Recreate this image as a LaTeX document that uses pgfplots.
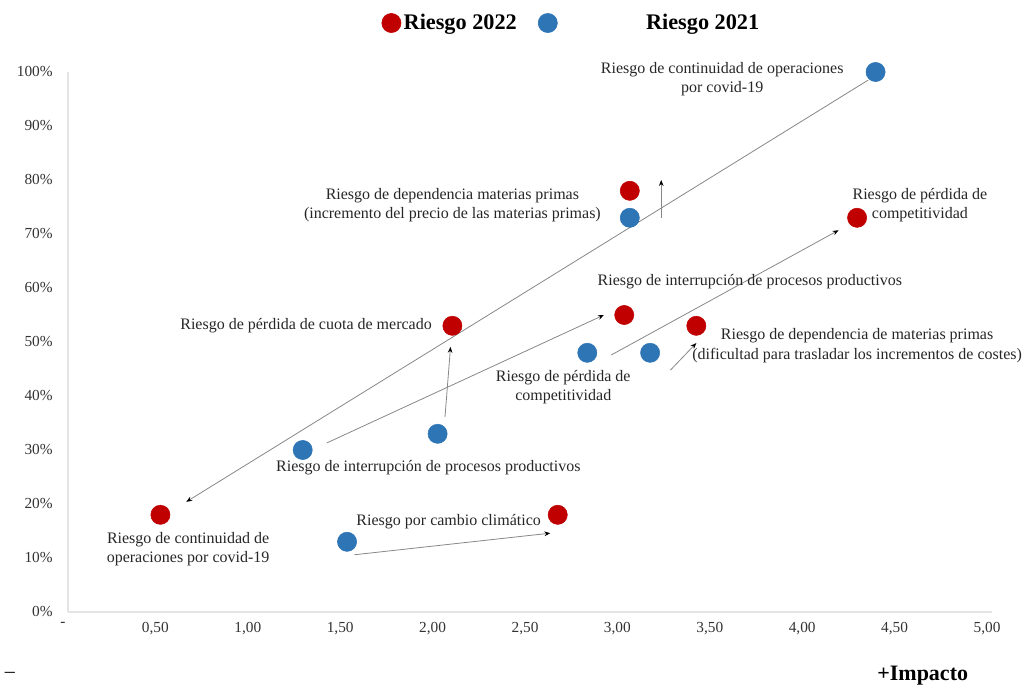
\documentclass[border=0pt]{standalone}
\usepackage{fontspec}
\setmainfont{Liberation Serif}
\usepackage{pgfplots}
\pgfplotsset{compat=1.18}
\usetikzlibrary{arrows.meta}
\definecolor{rojo}{RGB}{192,0,0}
\definecolor{azul}{RGB}{46,117,182}
\definecolor{flecha}{RGB}{135,135,135}
\tikzset{lab/.style={font=\fontsize{12}{14.5}\selectfont, text=black!85, inner sep=0pt, align=center}}
\begin{document}
\begin{tikzpicture}
\useasboundingbox (-51pt,-57pt) rectangle (721.5pt,459pt);
\begin{axis}[
  scale only axis, width=693pt, height=405pt,
  at={(0,0)}, anchor=south west,
  xmin=0, xmax=5, ymin=0, ymax=100,
  clip=false,
  axis x line*=bottom, axis y line*=left,
  axis line style={draw=black!10, line width=0.8pt, -},
  major tick length=0pt,
  xtick={0,0.5,1,1.5,2,2.5,3,3.5,4,4.5,5},
  xticklabels={-,{0,50},{1,00},{1,50},{2,00},{2,50},{3,00},{3,50},{4,00},{4,50},{5,00}},
  ytick={0,10,20,30,40,50,60,70,80,90,100},
  yticklabels={0\%,10\%,20\%,30\%,40\%,50\%,60\%,70\%,80\%,90\%,100\%},
  ticklabel style={font=\fontsize{11.5}{13}\selectfont, text=black!80},
  xticklabel style={yshift=-4pt, xshift=-3.75pt},
  yticklabel style={xshift=-8pt},
  legend style={at={(0.335,1.0907)}, anchor=west, draw=none, fill=none,
    font=\fontsize{16.7}{18}\selectfont\bfseries,
    /tikz/every even column/.append style={column sep=14pt}},
  legend columns=-1,
]
% flechas de 2021 a 2022
\addplot[flecha, line width=0.6pt, -{Stealth[length=4.5pt,width=3.5pt,black]}, forget plot] coordinates {(4.33,98.5) (0.64,20.4)};
\addplot[flecha, line width=0.6pt, -{Stealth[length=4.5pt,width=3.5pt,black]}, forget plot] coordinates {(3.21,73) (3.21,80)};
\addplot[flecha, line width=0.6pt, -{Stealth[length=4.5pt,width=3.5pt,black]}, forget plot] coordinates {(2.04,36.1) (2.07,49.1)};
\addplot[flecha, line width=0.6pt, -{Stealth[length=4.5pt,width=3.5pt,black]}, forget plot] coordinates {(1.40,31.3) (2.90,55)};
\addplot[flecha, line width=0.6pt, -{Stealth[length=4.5pt,width=3.5pt,black]}, forget plot] coordinates {(2.94,47.6) (4.17,70.7)};
\addplot[flecha, line width=0.6pt, -{Stealth[length=4.5pt,width=3.5pt,black]}, forget plot] coordinates {(3.26,44.8) (3.40,49.8)};
\addplot[flecha, line width=0.6pt, -{Stealth[length=4.5pt,width=3.5pt,black]}, forget plot] coordinates {(1.55,10.6) (2.61,14.6)};

% Riesgo 2022
\addplot[only marks, mark=*, mark size=7.2pt, color=rojo] coordinates {
  (0.50,18) (2.08,53) (3.04,78) (3.01,55) (3.40,53) (4.27,73) (2.65,18)};
\addlegendentry{Riesgo 2022}
% Riesgo 2021
\addplot[only marks, mark=*, mark size=7.2pt, color=azul] coordinates {
  (4.37,100) (3.04,73) (2.81,48) (3.15,48) (1.27,30) (2.00,33) (1.51,13)};
\addlegendentry{\hspace*{64.5pt}Riesgo 2021}

\node[lab] at (axis cs:3.54,98.7) {Riesgo de continuidad de operaciones\\por covid-19};
\node[lab] at (axis cs:2.08,75.4) {Riesgo de dependencia materias primas\\(incremento del precio de las materias primas)};
\node[lab] at (axis cs:4.61,75.4) {Riesgo de pérdida de\\competitividad};
\node[lab] at (axis cs:3.69,61.1) {Riesgo de interrupción de procesos productivos};
\node[lab, anchor=east] at (axis cs:1.97,53.1) {Riesgo de pérdida de cuota de mercado};
\node[lab] at (axis cs:4.27,49.3) {Riesgo de dependencia de materias primas\\(dificultad para trasladar los incrementos de costes)};
\node[lab] at (axis cs:2.68,41.7) {Riesgo de pérdida de\\competitividad};
\node[lab] at (axis cs:1.95,26.7) {Riesgo de interrupción de procesos productivos};
\node[lab] at (axis cs:0.65,11.7) {Riesgo de continuidad de\\operaciones por covid-19};
\node[lab] at (axis cs:2.06,16.7) {Riesgo por cambio climático};

\node[font=\fontsize{15}{18}\selectfont] at (axis description cs:-0.0628,-0.1167) {–};
\node[font=\fontsize{16.5}{18}\selectfont\bfseries] at (axis description cs:0.925,-0.1185) {+Impacto};
\end{axis}
\end{tikzpicture}
\end{document}
